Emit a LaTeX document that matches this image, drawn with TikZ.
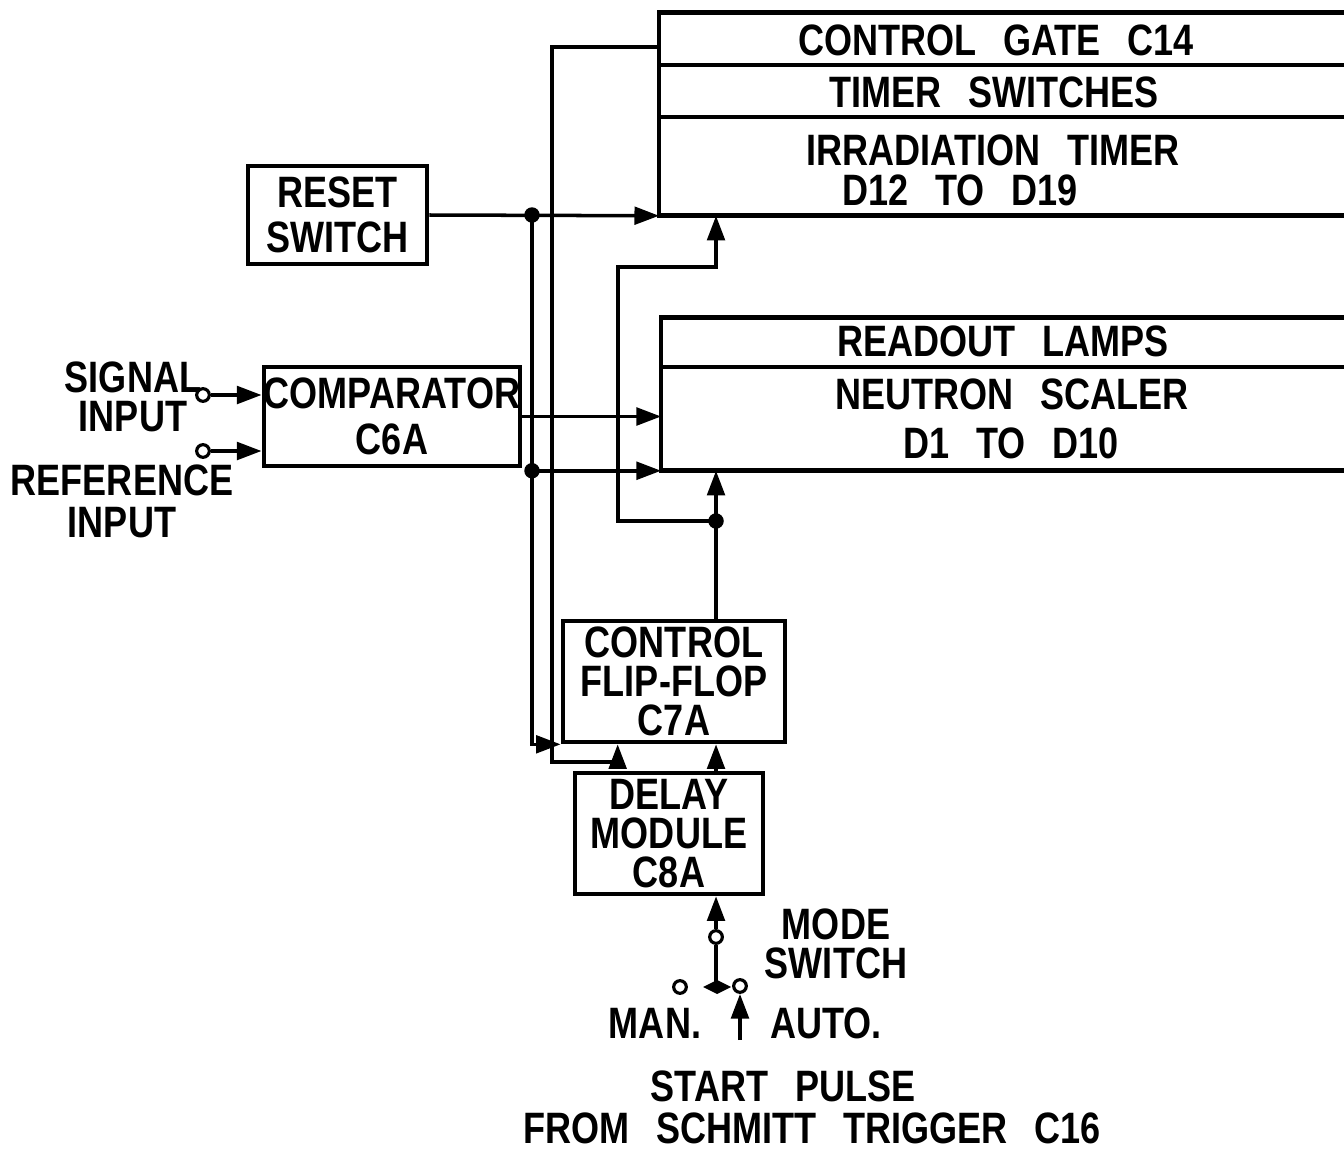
\documentclass[tikz,border=0pt]{standalone}
\usepackage{fontspec}
\setmainfont{Liberation Sans}[FakeStretch=0.82, WordSpace=2.7]
\usetikzlibrary{positioning, arrows.meta, calc}

\begin{document}
\begin{tikzpicture}[
    x=0.01cm, y=-0.01cm,
    >={Triangle[length=7pt, width=5pt]},
    font=\bfseries\fontsize{12.5}{13}\selectfont,
    tight/.style={font=\bfseries\fontsize{12.5}{11}\selectfont},
    wire/.style={line width=1pt},
    boxline/.style={line width=1.3pt},
    blk/.style={draw, line width=1.3pt, align=center, inner sep=0pt},
    lbl/.style={align=center, inner sep=0pt},
    jdot/.style={circle, fill, inner sep=0pt, minimum size=4.4pt},
    term/.style={circle, draw, line width=0.9pt, fill=white, inner sep=0pt, minimum size=3.6pt},
]
\useasboundingbox (0,0) rectangle (1344,1151);

% Timer block (runs off the right edge)
\node[minimum width=6.84cm, minimum height=2.02cm, inner sep=0pt] (timer) at (1002,114) {};
\draw[boxline] (timer.north east) -| (timer.south west) -- (timer.south east);
\draw[boxline] (timer.west |- 0,65) -- (timer.east |- 0,65);
\draw[boxline] (timer.west |- 0,117) -- (timer.east |- 0,117);
\node[lbl] (gate) at (996,40) {CONTROL GATE C14};
\node[lbl] (tsw) at (994,92) {TIMER SWITCHES};
\node[lbl] (irr) at (993,150) {IRRADIATION TIMER};
\node[lbl] (irrno) at (960,190) {D12 TO D19};

% Scaler block
\node[minimum width=6.82cm, minimum height=1.52cm, inner sep=0pt] (scaler) at (1003,394) {};
\draw[boxline] (scaler.north east) -| (scaler.south west) -- (scaler.south east);
\draw[boxline] (scaler.west |- 0,367) -- (scaler.east |- 0,367);
\node[lbl] (lamps) at (1003,341) {READOUT LAMPS};
\node[lbl] (neut) at (1012,394) {NEUTRON SCALER};
\node[lbl] (neutno) at (1011,443) {D1 TO D10};

% Small blocks
\node[blk, minimum width=1.79cm, minimum height=0.98cm] (reset) at (337.5,215) {RESET\\SWITCH};
\node[blk, minimum width=2.50cm, minimum height=0.99cm] (cmp) at (392,416.5) {COMPARATOR\\C6A};
\node[blk, tight, minimum width=2.22cm, minimum height=1.21cm] (ctl) at (674,681.5) {CONTROL\\FLIP-FLOP\\C7A};
\node[blk, tight, minimum width=1.88cm, minimum height=1.21cm] (dly) at (669,833.5) {DELAY\\MODULE\\C8A};

% Inputs
\node[term] (sig) at (203,395) {};
\node[term] (ref) at (203,451) {};
\node[lbl, tight] (siglbl) at (133,397) {SIGNAL\\INPUT};
\node[lbl, font=\bfseries\fontsize{12.5}{12}\selectfont] (reflbl) at (122,501) {REFERENCE\\INPUT};
\draw[wire,->] (sig) -- (sig -| cmp.west);
\draw[wire,->] (ref) -- (ref -| cmp.west);

% Reset lines
\node[jdot] (j1) at (532,215) {};
\node[jdot] (j2) at (j1 |- scaler.south) {};
\draw[wire,->] (reset.east) -- (timer.south west);
\draw[wire] (j1.center) -- (j2.center);
\draw[wire,->] (j2.center) -- (scaler.south west);
\draw[wire,->] (j2.center) |- (ctl.south west);

% Comparator output
\draw[wire,->] (cmp.east) -- (cmp.east -| scaler.west);

% Control gate back to flip-flop
\draw[wire,->] ([yshift=-0.07cm]timer.west |- gate) -| (552,762) -| ([xshift=0.57cm]ctl.south west);

% Flip-flop output
\coordinate (ffo) at ([xshift=0.42cm]ctl.north);
\node[jdot] (j3) at (ffo |- 0,521) {};
\draw[wire,->] (ffo) -- (ffo |- scaler.south);
\draw[wire,->] (j3.center) -| (618,267) -| (ffo |- timer.south);
\draw[wire,->] (dly.north -| ffo) -- (ctl.south -| ffo);

% Mode switch
\node[term] (pivot) at (ffo |- 0,937) {};
\coordinate (blade) at (ffo |- 0,987);
\draw[wire,->] (pivot) -- (pivot |- dly.south);
\draw[wire] (pivot) -- (blade);
\fill (blade) ++(-13,0) -- ++(14,-7) -- ++(14,7) -- ++(-14,7) -- cycle;
\node[term] (man) at (680,987) {};
\node[term] (auto) at (740,986) {};
\coordinate (pulse) at (740,1040);
\draw[wire,->] (pulse) -- (auto);
\node[lbl, tight] (modelbl) at (836,944) {MODE\\SWITCH};
\node[lbl] (manlbl) at (655,1023) {MAN.};
\node[lbl] (autolbl) at (826,1023) {AUTO.};
\node[lbl] (startlbl) at (783,1086) {START PULSE};
\node[lbl] (fromlbl) at (812,1128) {FROM SCHMITT TRIGGER C16};

\end{tikzpicture}
\end{document}
